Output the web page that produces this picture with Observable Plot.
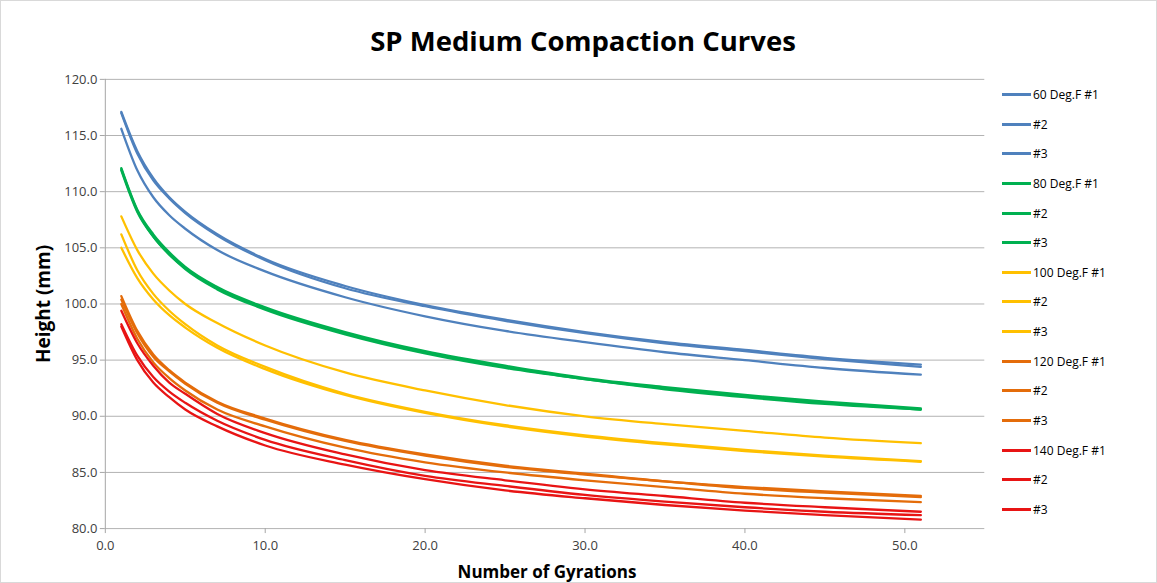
<!DOCTYPE html>
<html>
<head>
<meta charset="utf-8">
<script src="https://cdn.jsdelivr.net/npm/d3@7"></script>
<script src="https://cdn.jsdelivr.net/npm/@observablehq/plot@0.6"></script>
<style>
  html, body { margin: 0; padding: 0; background: #fff; }
  #chart { position: relative; width: 1155px; height: 581px; border: 1px solid #d9d9d9; overflow: hidden; font-family: "Open Sans", "Liberation Sans", sans-serif; }
  #title { position: absolute; left: 0; width: 1164px; top: 21px; text-align: center; font-size: 27.5px; font-weight: 700; color: #000; }
  #ylabel { position: absolute; left: 42px; top: 303px; transform: translate(-50%, -50%) rotate(-90deg); font-size: 19px; font-weight: 700; white-space: nowrap; color: #000; }
  #xlabel { position: absolute; left: 546px; top: 570px; transform: translate(-50%, -50%); font-size: 17px; font-weight: 700; white-space: nowrap; color: #000; }
  #plot { position: absolute; left: 0; top: 0; }
  #legend { position: absolute; left: 1001px; top: 0; }
  .item { position: absolute; left: 0; display: flex; align-items: center; height: 20px; font-size: 12px; color: #000; white-space: nowrap; }
  .sw { width: 29px; height: 3px; margin-right: 2px; }
</style>
</head>
<body>
<div id="chart">
  <div id="plot"></div>
  <div id="title">SP Medium Compaction Curves</div>
  <div id="ylabel">Height (mm)</div>
  <div id="xlabel">Number of Gyrations</div>
  <div id="legend"></div>
</div>
<script>
const gyrations = [1, 2, 3, 4, 5, 7, 10, 15, 20, 25, 30, 35, 40, 45, 51];

const seriesNames = [
  "60 Deg.F #1", "#2 (60)", "#3 (60)",
  "80 Deg.F #1", "#2 (80)", "#3 (80)",
  "100 Deg.F #1", "#2 (100)", "#3 (100)",
  "120 Deg.F #1", "#2 (120)", "#3 (120)",
  "140 Deg.F #1", "#2 (140)", "#3 (140)"
];
const legendLabels = [
  "60 Deg.F #1", "#2", "#3",
  "80 Deg.F #1", "#2", "#3",
  "100 Deg.F #1", "#2", "#3",
  "120 Deg.F #1", "#2", "#3",
  "140 Deg.F #1", "#2", "#3"
];
const seriesColors = [
  "#4f81bd", "#4f81bd", "#4f81bd",
  "#00b050", "#00b050", "#00b050",
  "#ffc000", "#ffc000", "#ffc000",
  "#e46c0a", "#e46c0a", "#e46c0a",
  "#e81414", "#e81414", "#e81414"
];

const h60_1 = [117.1, 113.6, 111.2, 109.5, 108.2, 106.2, 104.0, 101.6, 99.9, 98.6, 97.5, 96.6, 95.9, 95.2, 94.6];
const h60_2 = [117.0, 113.4, 111.0, 109.4, 108.1, 106.1, 103.9, 101.4, 99.8, 98.5, 97.4, 96.5, 95.8, 95.1, 94.4];
const h60_3 = [115.6, 111.9, 109.5, 107.9, 106.7, 104.8, 102.9, 100.6, 98.9, 97.6, 96.6, 95.7, 95.0, 94.3, 93.7];
const h80_1 = [112.1, 108.4, 106.2, 104.6, 103.3, 101.5, 99.7, 97.5, 95.8, 94.5, 93.4, 92.6, 91.9, 91.3, 90.7];
const h80_2 = [112.0, 108.3, 106.0, 104.4, 103.2, 101.4, 99.6, 97.4, 95.7, 94.4, 93.3, 92.5, 91.8, 91.2, 90.6];
const h80_3 = [111.9, 108.2, 106.0, 104.4, 103.1, 101.3, 99.5, 97.3, 95.6, 94.3, 93.3, 92.4, 91.7, 91.1, 90.6];
const h100_1 = [107.8, 104.8, 102.7, 101.2, 100.0, 98.3, 96.3, 93.9, 92.3, 91.0, 90.0, 89.3, 88.7, 88.1, 87.6];
const h100_2 = [106.2, 103.0, 100.9, 99.4, 98.2, 96.3, 94.4, 92.0, 90.4, 89.2, 88.3, 87.6, 87.0, 86.5, 86.0];
const h100_3 = [105.0, 102.3, 100.4, 99.0, 97.9, 96.1, 94.2, 91.9, 90.3, 89.1, 88.2, 87.5, 86.9, 86.4, 85.95];
const h120_1 = [100.7, 97.6, 95.5, 94.1, 93.0, 91.3, 89.8, 87.9, 86.6, 85.6, 84.9, 84.2, 83.7, 83.3, 82.9];
const h120_2 = [100.4, 97.4, 95.3, 94.0, 92.9, 91.2, 89.7, 87.8, 86.5, 85.5, 84.8, 84.2, 83.6, 83.2, 82.8];
const h120_3 = [100.0, 96.9, 94.8, 93.4, 92.3, 90.6, 89.1, 87.2, 85.9, 85.0, 84.3, 83.7, 83.1, 82.7, 82.35];
const h140_1 = [99.4, 96.5, 94.5, 93.0, 92.0, 90.2, 88.5, 86.6, 85.2, 84.3, 83.5, 82.9, 82.3, 81.9, 81.5];
const h140_2 = [98.2, 95.4, 93.5, 92.2, 91.2, 89.6, 87.9, 86.1, 84.7, 83.8, 83.0, 82.4, 81.9, 81.5, 81.2];
const h140_3 = [98.0, 95.0, 93.0, 91.7, 90.6, 89.1, 87.4, 85.7, 84.4, 83.4, 82.7, 82.1, 81.6, 81.2, 80.8];

const allSeries = [h60_1, h60_2, h60_3, h80_1, h80_2, h80_3, h100_1, h100_2, h100_3,
                   h120_1, h120_2, h120_3, h140_1, h140_2, h140_3];

const xTicks = [0, 10, 20, 30, 40, 50];
const yTicks = [80, 85, 90, 95, 100, 105, 110, 115, 120];

const data = [];
allSeries.forEach((vals, i) => {
  vals.forEach((v, j) => data.push({series: seriesNames[i], x: gyrations[j], y: v}));
});

const plot = Plot.plot({
  width: 1157,
  height: 583,
  marginLeft: 104,
  marginRight: 172,
  marginTop: 78,
  marginBottom: 55,
  style: {fontFamily: "'Open Sans', 'Liberation Sans', sans-serif", fontSize: "13px", color: "#404040", background: "transparent"},
  x: {domain: [0, 55], label: null},
  y: {domain: [80, 120], label: null},
  color: {domain: seriesNames, range: seriesColors},
  marks: [
    Plot.ruleY(yTicks, {y: d => d, stroke: "#b3b3b3", strokeWidth: 1}),
    Plot.ruleX([0], {stroke: "#a6a6a6"}),
    Plot.axisY({ticks: yTicks, tickFormat: d => d.toFixed(1), tickSize: 5, tickPadding: 3, stroke: "#a6a6a6", fill: "#404040", label: null}),
    Plot.axisX({ticks: xTicks, tickFormat: d => d.toFixed(1), tickSize: 5, tickPadding: 7, stroke: "#a6a6a6", fill: "#404040", label: null}),
    Plot.line(data, {x: "x", y: "y", z: "series", stroke: "series", strokeWidth: 2.3, curve: "monotone-x"})
  ]
});
document.getElementById("plot").appendChild(plot);

const legend = document.getElementById("legend");
legendLabels.forEach((lab, i) => {
  const item = document.createElement("div");
  item.className = "item";
  item.style.top = Math.round(93 + i * 29.64 - 10) + "px";
  const sw = document.createElement("div");
  sw.className = "sw";
  sw.style.background = seriesColors[i];
  const t = document.createElement("span");
  t.textContent = lab;
  item.appendChild(sw);
  item.appendChild(t);
  legend.appendChild(item);
});
</script>
</body>
</html>
